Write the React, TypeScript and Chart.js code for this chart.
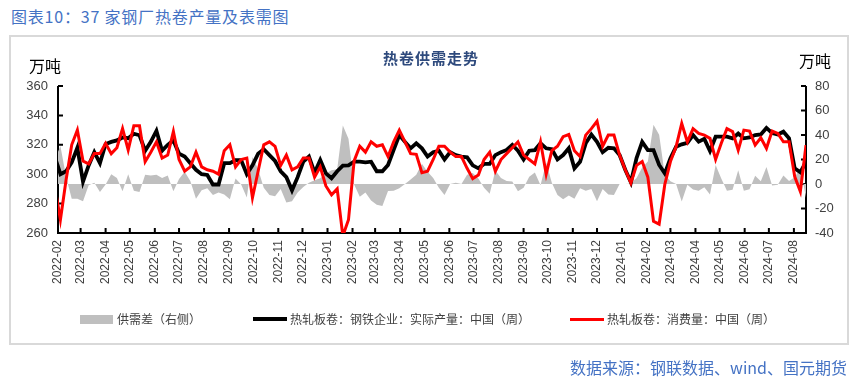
import React, { useEffect, useRef } from 'react';
import { Chart, registerables } from 'chart.js';

Chart.register(...registerables);

// weekly observations (Fridays), first one falls just before the axis start and is clipped
const firstWeek = '2022-01-28';
const axisStart = '2022-02-01';
const axisEnd = '2024-08-16';

const monthTicks = [
  '2022-02', '2022-03', '2022-04', '2022-05', '2022-06', '2022-07', '2022-08', '2022-09', '2022-10', '2022-11', '2022-12',
  '2023-01', '2023-02', '2023-03', '2023-04', '2023-05', '2023-06', '2023-07', '2023-08', '2023-09', '2023-10', '2023-11', '2023-12',
  '2024-01', '2024-02', '2024-03', '2024-04', '2024-05', '2024-06', '2024-07', '2024-08',
];

// 热轧板卷：钢铁企业：实际产量：中国（周） 万吨
const production = [
  312, 300, 302, 308, 318, 295, 306, 315, 307.5, 320.5,
  322, 323, 325, 324.5, 327.5, 326.5, 316, 322, 329.5, 316,
  320, 323, 314, 312, 307.5, 303, 300, 299.5, 293, 293,
  307.5, 307.5, 309.5, 309.5, 300, 306, 314, 317, 313, 309,
  302, 298, 289, 298, 308.5, 312, 301, 309.7, 300.6, 297.3,
  302, 305.8, 306, 308.5, 308.5, 308, 308.5, 302, 302, 306.3,
  316.5, 326.6, 322, 317.6, 321, 317.6, 312, 315, 316, 310,
  315, 313, 312, 311.5, 306, 304, 307, 307, 313, 315,
  316.5, 320, 316, 310, 316, 316.4, 321, 317.6, 317, 310,
  313, 317.6, 304, 308.5, 321, 327, 322, 315, 318, 317.6,
  313, 303, 294.5, 311, 322, 316.4, 316.4, 306.3, 300.6, 310.8,
  318.7, 320.3, 321.4, 326.6, 322.1, 324, 315.8, 325.5, 325.5, 325.5,
  324.4, 327.7, 324.4, 325, 326.6, 327, 331.5, 328, 327, 328.9,
  324.4, 304, 301.3, 308.5,
];

// 热轧板卷：消费量：中国（周） 万吨
const consumption = [
  292, 269, 296, 320, 330, 309, 307, 314, 314, 321,
  314, 318, 331, 316.5, 333, 333, 308.5, 315, 322, 311,
  313, 329, 310, 302, 305, 315, 305, 303, 302, 300,
  316, 320, 305, 310, 311, 284, 302, 320, 322, 319,
  306, 313, 303, 305, 311, 311, 298, 305, 292, 286,
  290, 258, 269, 309, 319, 315, 322, 319, 320, 312,
  322, 330, 322, 314, 313.5, 301, 302, 310, 319, 319,
  315, 312, 312, 304, 297, 299.5, 310, 315, 302, 310,
  314, 318, 322, 313, 310, 307, 322, 300, 316, 319,
  325.5, 327, 316, 312, 326.6, 331, 336, 319, 326.6, 326.6,
  313, 303, 294, 306, 308.6, 298, 268, 266, 293, 308.6,
  318.7, 334.5, 322, 331, 327.7, 326.6, 324.4, 310, 321, 331,
  329, 316.4, 330, 329.3, 319.8, 324.8, 317.6, 329.3, 327.7, 322,
  322, 298.4, 288.2, 319.8,
];

// 供需差（右侧） 万吨
const gap = [
  20, 31, 6, -12, -12, -14, -1, 1, -6.5, -0.5,
  8, 5, -6, 8, -5.5, -6.5, 7.5, 7, 7.5, 5,
  7, -6, 4, 10, 2.5, -12, -5, -3.5, -9, -7,
  -8.5, -12.5, 4.5, -0.5, -11, 22, 12, -3, -9, -10,
  -4, -15, -14, -7, -2.5, 1, 3, 4.7, 8.6, 11.3,
  12, 47.8, 37, -0.5, -10.5, -7, -13.5, -17, -18, -5.7,
  -5.5, -3.4, 0, 3.6, 7.5, 16.6, 10, 5, -3, -9,
  0, 1, 0, 7.5, 9, 4.5, -3, -8, 11, 5,
  2.5, 2, -6, -3, 6, 9.4, -1, 17.6, 1, -9,
  -12.5, -9.4, -12, -3.5, -5.6, -4, -14, -4, -8.6, -9,
  0, 0, 0.5, 5, 13.4, 18.4, 48.4, 40.3, 7.6, 2.2,
  0, -14.2, -0.6, -4.4, -5.6, -2.6, -8.6, 15.5, 4.5, -5.5,
  -4.6, 11.3, -5.6, -4.3, 6.8, 2.2, 13.9, -1.3, -0.7, 6.9,
  2.4, 5.6, 13.1, -11.3,
];

const DAY = 86400000;
const toUTC = (s: string) => {
  const p = s.split('-').map(Number);
  return Date.UTC(p[0], p[1] - 1, p[2] || 1);
};
const dayOffset = (s: string) => Math.round((toUTC(s) - toUTC(axisStart)) / DAY);
const weekX = production.map((_, k) => dayOffset(firstWeek) + 7 * k);
const monthX = monthTicks.map((m) => dayOffset(m + '-01'));

const axisPlugin = {
  id: 'axisLines',
  beforeDatasetsDraw(chart: any) {
    const { ctx, chartArea: a, scales } = chart;
    ctx.save();
    ctx.strokeStyle = '#000';
    ctx.lineWidth = 2;
    ctx.beginPath();
    ctx.moveTo(a.left, a.top);
    ctx.lineTo(a.left, a.bottom);
    ctx.moveTo(a.right, a.top);
    ctx.lineTo(a.right, a.bottom);
    ctx.moveTo(a.left - 1, a.bottom);
    ctx.lineTo(a.right + 1, a.bottom);
    scales.y.ticks.forEach((t: any) => {
      const y = scales.y.getPixelForValue(t.value);
      ctx.moveTo(a.left, y);
      ctx.lineTo(a.left + 5, y);
    });
    scales.y1.ticks.forEach((t: any) => {
      const y = scales.y1.getPixelForValue(t.value);
      ctx.moveTo(a.right, y);
      ctx.lineTo(a.right - 5, y);
    });
    scales.x.ticks.forEach((t: any) => {
      const x = scales.x.getPixelForValue(t.value);
      ctx.moveTo(x, a.bottom);
      ctx.lineTo(x, a.bottom - 5);
    });
    ctx.stroke();
    ctx.restore();
  },
};

const CJK = '"Noto Sans CJK SC", "Noto Sans", sans-serif';
const NUM = '"Liberation Sans", Arial, sans-serif';
const TICK_COLOR = '#404040';

export default function App() {
  const ref = useRef<HTMLCanvasElement | null>(null);

  useEffect(() => {
    if (!ref.current) return;
    const chart = new Chart(ref.current, {
      type: 'line',
      data: {
        datasets: [
          {
            label: '热轧板卷：消费量：中国（周）',
            data: consumption.map((v, k) => ({ x: weekX[k], y: v })),
            yAxisID: 'y',
            borderColor: '#ff0000',
            borderWidth: 3,
            pointRadius: 0,
            tension: 0,
            fill: false,
            order: 1,
          },
          {
            label: '热轧板卷：钢铁企业：实际产量：中国（周）',
            data: production.map((v, k) => ({ x: weekX[k], y: v })),
            yAxisID: 'y',
            borderColor: '#000000',
            borderWidth: 3.8,
            pointRadius: 0,
            tension: 0,
            fill: false,
            order: 2,
          },
          {
            label: '供需差（右侧）',
            data: gap.map((v, k) => ({ x: weekX[k], y: v })),
            yAxisID: 'y1',
            borderColor: 'rgba(0,0,0,0)',
            borderWidth: 0,
            backgroundColor: '#bfbfbf',
            pointRadius: 0,
            tension: 0,
            fill: 'origin',
            order: 3,
          },
        ],
      },
      options: {
        responsive: false,
        animation: false,
        events: [],
        layout: { padding: { top: 86, left: 0, right: 0, bottom: 0 }, autoPadding: false },
        plugins: { legend: { display: false }, tooltip: { enabled: false }, title: { display: false } },
        scales: {
          x: {
            type: 'linear',
            min: 0,
            max: dayOffset(axisEnd),
            afterBuildTicks: (scale: any) => {
              scale.ticks = monthX.map((v) => ({ value: v }));
            },
            afterFit: (scale: any) => {
              scale.height = 385 - 233;
            },
            grid: { display: false, drawTicks: false },
            border: { display: false },
            ticks: {
              autoSkip: false,
              minRotation: 90,
              maxRotation: 90,
              padding: 7,
              color: TICK_COLOR,
              font: { family: NUM, size: 12 },
              callback: (value: any) => {
                const idx = monthX.indexOf(Number(value));
                return idx >= 0 ? monthTicks[idx] : null;
              },
            },
          },
          y: {
            type: 'linear',
            position: 'left',
            min: 260,
            max: 360,
            afterFit: (scale: any) => {
              scale.width = 58;
            },
            grid: { display: false, drawTicks: false },
            border: { display: false },
            ticks: { stepSize: 20, padding: 10, color: TICK_COLOR, font: { family: NUM, size: 13 } },
          },
          y1: {
            type: 'linear',
            position: 'right',
            min: -40,
            max: 80,
            afterFit: (scale: any) => {
              scale.width = 862 - 806;
            },
            grid: { display: false, drawTicks: false },
            border: { display: false },
            ticks: { stepSize: 20, padding: 9, color: TICK_COLOR, font: { family: NUM, size: 13 } },
          },
        },
      },
      plugins: [axisPlugin],
    } as any);
    return () => chart.destroy();
  }, []);

  const abs = (o: React.CSSProperties): React.CSSProperties => ({ position: 'absolute', whiteSpace: 'nowrap', ...o });
  const legendText: React.CSSProperties = { fontFamily: CJK, fontSize: 12, lineHeight: '14px', color: '#404040' };

  return (
    <div style={{ position: 'absolute', left: 0, top: 0, width: 862, height: 385, background: '#fff', overflow: 'hidden' }}>
      <div style={abs({ left: 11, top: 7, fontFamily: CJK, fontSize: 16, lineHeight: '18px', color: '#4472C4', letterSpacing: 0.8 })}>
        图表10：37 家钢厂热卷产量及表需图
      </div>
      <div style={abs({ left: 9, top: 35, width: 836, height: 306, border: '2px solid #d9d9d9' })} />
      <canvas ref={ref} width={862} height={385} style={{ position: 'absolute', left: 0, top: 0, width: 862, height: 385 }} />
      <div style={abs({ left: 381, top: 49, width: 100, textAlign: 'center', fontFamily: CJK, fontSize: 15, fontWeight: 700, lineHeight: '18px', color: '#2E4A7D', letterSpacing: 1 })}>
        热卷供需走势
      </div>
      <div style={abs({ left: 29, top: 56, fontFamily: CJK, fontSize: 16, lineHeight: '18px', color: '#000' })}>万吨</div>
      <div style={abs({ left: 799, top: 51, fontFamily: CJK, fontSize: 16, lineHeight: '18px', color: '#000' })}>万吨</div>

      <div style={abs({ left: 80, top: 315, width: 33, height: 9, background: '#bfbfbf' })} />
      <div style={abs({ left: 117, top: 312, ...legendText })}>供需差（右侧）</div>
      <div style={abs({ left: 253, top: 317, width: 34, height: 4, background: '#000' })} />
      <div style={abs({ left: 290, top: 312, ...legendText })}>热轧板卷：钢铁企业：实际产量：中国（周）</div>
      <div style={abs({ left: 570, top: 317.5, width: 34, height: 3, background: '#ff0000' })} />
      <div style={abs({ left: 607, top: 312, ...legendText })}>热轧板卷：消费量：中国（周）</div>

      <div style={abs({ right: 862 - 847, top: 358, fontFamily: CJK, fontSize: 16, lineHeight: '18px', color: '#4472C4' })}>
        数据来源：钢联数据、wind、国元期货
      </div>
    </div>
  );
}
